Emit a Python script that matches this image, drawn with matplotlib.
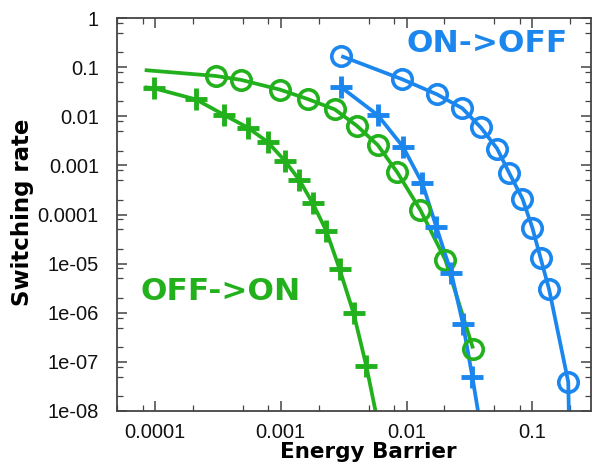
import matplotlib
matplotlib.use("Agg")
import matplotlib.pyplot as plt
from matplotlib.ticker import LogLocator, FixedLocator, FixedFormatter, NullFormatter

# ---- data ----
green_circ_x = [3.06e-4, 4.84e-4, 9.8e-4, 1.64e-3, 2.69e-3, 4.03e-3, 5.9e-3, 8.45e-3, 0.0129, 0.0204, 0.0338]
green_circ_y = [0.066, 0.055, 0.035, 0.0224, 0.0138, 6.4e-3, 2.6e-3, 7.2e-4, 1.23e-4, 1.18e-5, 1.87e-7]
green_circ_fit_x = [8.3e-5] + green_circ_x
green_circ_fit_y = [0.087] + green_circ_y

green_plus_x = [9.9e-5, 2.12e-4, 3.56e-4, 5.46e-4, 7.87e-4, 1.08e-3, 1.41e-3, 1.80e-3, 2.3e-3, 2.94e-3, 3.8e-3, 4.79e-3]
green_plus_y = [0.037, 0.022, 0.0106, 5.9e-3, 3.0e-3, 1.24e-3, 5.0e-4, 1.68e-4, 4.7e-5, 7.7e-6, 9.7e-7, 8.3e-8]
green_plus_fit_x = [8.3e-5] + green_plus_x + [5.67e-3]
green_plus_fit_y = [0.039] + green_plus_y + [1e-8]

blue_circ_x = [3.03e-3, 9.27e-3, 0.01746, 0.0278, 0.0389, 0.0525, 0.0653, 0.0835, 0.1, 0.1165, 0.136, 0.193]
blue_circ_y = [0.168, 0.0564, 0.0279, 0.0145, 5.94e-3, 2.2e-3, 7.1e-4, 2.1e-4, 5.4e-5, 1.28e-5, 2.98e-6, 3.9e-8]
blue_circ_fit_x = blue_circ_x + [0.195]
blue_circ_fit_y = blue_circ_y + [1e-8]

blue_plus_x = [3.03e-3, 5.9e-3, 9.37e-3, 0.01337, 0.01726, 0.02275, 0.0281, 0.0334]
blue_plus_y = [0.0388, 0.0106, 2.4e-3, 4.3e-4, 5.6e-5, 6.3e-6, 5.9e-7, 4.9e-8]
blue_plus_fit_x = blue_plus_x + [0.037]
blue_plus_fit_y = blue_plus_y + [1e-8]

x_ticks = [1e-4, 1e-3, 1e-2, 1e-1]
x_tick_labels = ["0.0001", "0.001", "0.01", "0.1"]
y_ticks = [1e-8, 1e-7, 1e-6, 1e-5, 1e-4, 1e-3, 1e-2, 1e-1, 1]
y_tick_labels = ["1e-08", "1e-07", "1e-06", "1e-05", "0.0001", "0.001", "0.01", "0.1", "1"]

GREEN = "#22b11c"
BLUE = "#1a86ee"

fig = plt.figure(figsize=(5.93, 4.67), dpi=100)
ax = fig.add_axes([117/593, 1-411/467, (590.5-117)/593, (411-18)/467])
ax.set_xscale("log")
ax.set_yscale("log")
ax.set_xlim(5e-5, 0.29)
ax.set_ylim(1e-8, 1)

lw = 2.7
ax.plot(green_circ_fit_x, green_circ_fit_y, color=GREEN, lw=lw, solid_capstyle="butt")
ax.plot(green_plus_fit_x, green_plus_fit_y, color=GREEN, lw=lw, solid_capstyle="butt")
ax.plot(blue_circ_fit_x, blue_circ_fit_y, color=BLUE, lw=lw, solid_capstyle="butt")
ax.plot(blue_plus_fit_x, blue_plus_fit_y, color=BLUE, lw=lw, solid_capstyle="butt")

ax.plot(green_circ_x, green_circ_y, ls="none", marker="o", ms=14, mfc="none", mec=GREEN, mew=2.6, clip_on=False)
ax.plot(green_plus_x, green_plus_y, ls="none", marker="+", ms=16.5, mec=GREEN, mew=3.5, clip_on=False)
ax.plot(blue_circ_x, blue_circ_y, ls="none", marker="o", ms=14, mfc="none", mec=BLUE, mew=2.6, clip_on=False)
ax.plot(blue_plus_x, blue_plus_y, ls="none", marker="+", ms=16.5, mec=BLUE, mew=3.5, clip_on=False)

ax.xaxis.set_major_locator(FixedLocator(x_ticks))
ax.xaxis.set_major_formatter(FixedFormatter(x_tick_labels))
ax.yaxis.set_major_locator(FixedLocator(y_ticks))
ax.yaxis.set_major_formatter(FixedFormatter(y_tick_labels))
ax.xaxis.set_minor_locator(LogLocator(base=10, subs=[2, 5, 8]))
ax.yaxis.set_minor_locator(LogLocator(base=10, subs=[2, 5, 8]))
ax.xaxis.set_minor_formatter(NullFormatter())
ax.yaxis.set_minor_formatter(NullFormatter())

for s in ax.spines.values():
    s.set_color("#444444")
    s.set_linewidth(1.3)
ax.tick_params(which="both", direction="in", top=True, right=True, color="#444444")
ax.tick_params(which="major", length=7, width=1.1, labelsize=14.5,
               labelcolor="#111111", labelfontfamily="Liberation Sans")
ax.tick_params(which="minor", length=4, width=0.9)
ax.tick_params(axis="x", which="major", pad=9)
ax.tick_params(axis="y", which="major", pad=13)

fig.text(368/593, 1-452/467, "Energy Barrier", ha="center", va="center",
         fontsize=15.5, fontweight="bold", family="DejaVu Sans")
fig.text(23/593, 1-212/467, "Switching rate", ha="center", va="center", rotation=90,
         fontsize=16.5, fontweight="bold", family="DejaVu Sans")

fig.text(487/593, 1-43/467, "ON->OFF", ha="center", va="center", color=BLUE,
         fontsize=22.5, fontweight="bold", family="DejaVu Sans")
fig.text(221/593, 1-292/467, "OFF->ON", ha="center", va="center", color=GREEN,
         fontsize=22.5, fontweight="bold", family="DejaVu Sans")

fig.savefig("out.png", dpi=100)
